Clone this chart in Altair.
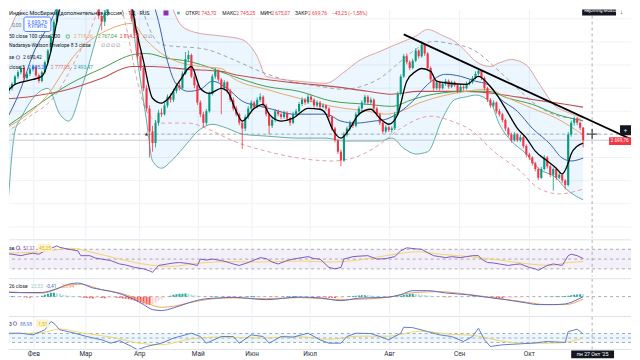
import altair as alt
import pandas as pd

FONT = "Roboto"
UP = "#089981"
DOWN = "#f23645"
W = 624
H_MAIN, H_RSI, H_MACD, H_OSC = 229, 37, 36, 42
OSC_PLOT = 33  # height of the oscillator plot band inside the last panel

# ---------------- candles (bar index 2 .. 194) ----------------
first_bar = 2
opens = [2870,2880,2895,2920,2935,2950,2915,2930,2945,2955,
         2925,2905,2935,2970,3010,3060,3110,3160,3200,3240,
         3270,3300,3320,3340,3310,3280,3250,3220,3250,3200,
         3170,3130,3110,3140,3180,3210,3230,3250,3240,3220,
         3190,3160,3120,3070,2990,2950,2880,2810,2730,2690,
         2760,2795,2790,2820,2850,2840,2870,2890,2880,2930,
         2980,2995,2920,2890,2830,2790,2760,2800,2860,2920,
         2940,2910,2880,2900,2870,2840,2810,2790,2760,2740,
         2780,2810,2830,2815,2840,2850,2820,2790,2750,2770,
         2800,2790,2780,2795,2775,2760,2790,2800,2825,2840,
         2830,2850,2840,2820,2830,2815,2820,2810,2780,2740,
         2700,2660,2630,2720,2740,2760,2750,2790,2810,2830,
         2850,2830,2840,2810,2790,2760,2730,2745,2735,2740,
         2790,2860,2920,2990,2970,2950,2975,3010,2990,3030,
         3000,2950,2910,2880,2900,2880,2895,2905,2885,2900,
         2890,2870,2885,2880,2895,2900,2915,2930,2940,2915,
         2880,2840,2820,2830,2800,2790,2770,2740,2720,2700,
         2720,2700,2710,2680,2650,2640,2620,2600,2570,2600,
         2640,2610,2580,2600,2570,2580,2560,2545,2720,2760,
         2775,2760,2743.70]
highs = [2890,2900,2925,2942,2958,2955,2936,2950,2962,2958,
         2930,2940,2975,3015,3068,3118,3168,3210,3250,3280,
         3310,3330,3350,3345,3318,3290,3258,3262,3255,3210,
         3175,3140,3150,3190,3220,3240,3262,3258,3248,3225,
         3195,3168,3128,3080,3005,2960,2890,2820,2750,2770,
         2805,2810,2830,2858,2862,2878,2898,2900,2938,3005,
         3010,3000,2930,2895,2838,2798,2808,2868,2928,2950,
         2945,2915,2908,2905,2878,2848,2818,2795,2768,2788,
         2818,2838,2836,2848,2862,2855,2826,2795,2778,2808,
         2806,2796,2802,2800,2780,2798,2808,2832,2848,2846,
         2860,2856,2845,2838,2835,2828,2824,2814,2785,2746,
         2705,2668,2728,2748,2768,2765,2798,2818,2838,2858,
         2856,2848,2845,2815,2795,2766,2752,2750,2748,2798,
         2868,2928,2998,3000,2976,2982,3018,3015,3042,3035,
         3005,2955,2915,2908,2905,2902,2912,2910,2906,2905,
         2895,2892,2890,2902,2908,2922,2938,2948,2944,2920,
         2885,2846,2838,2834,2808,2795,2775,2745,2726,2728,
         2724,2718,2714,2685,2656,2645,2625,2605,2608,2648,
         2645,2615,2606,2604,2588,2584,2565,2728,2768,2782,
         2780,2765,2745.25]
lows = [2860,2872,2890,2912,2928,2905,2908,2922,2938,2918,
        2898,2900,2930,2962,3005,3052,3100,3150,3190,3230,
        3260,3290,3305,3300,3270,3240,3210,3215,3190,3160,
        3120,3080,3095,3130,3170,3200,3220,3230,3210,3180,
        3150,3110,3060,2980,2940,2870,2800,2640,2660,2675,
        2750,2780,2785,2812,2830,2832,2862,2872,2875,2925,
        2970,2915,2880,2822,2780,2745,2752,2795,2855,2912,
        2902,2790,2872,2862,2832,2802,2782,2752,2670,2732,
        2772,2802,2808,2810,2832,2812,2782,2720,2742,2762,
        2782,2772,2774,2768,2750,2755,2784,2795,2818,2822,
        2825,2832,2812,2814,2808,2810,2802,2772,2732,2692,
        2652,2610,2625,2712,2732,2742,2745,2782,2802,2822,
        2822,2824,2802,2782,2752,2722,2724,2728,2726,2735,
        2785,2855,2915,2962,2942,2945,2970,2982,2985,2992,
        2942,2902,2872,2874,2872,2875,2888,2878,2880,2884,
        2862,2865,2872,2876,2890,2895,2910,2924,2908,2872,
        2832,2812,2814,2792,2782,2762,2732,2712,2692,2695,
        2694,2694,2672,2642,2632,2612,2592,2562,2565,2595,
        2602,2572,2525,2562,2565,2552,2530,2540,2712,2750,
        2752,2735,2675.07]
closes = [2880,2895,2920,2935,2950,2915,2930,2945,2955,2925,
          2905,2935,2970,3010,3060,3110,3160,3200,3240,3270,
          3300,3320,3340,3310,3280,3250,3220,3250,3200,3170,
          3130,3110,3140,3180,3210,3230,3250,3240,3220,3190,
          3160,3120,3070,2990,2950,2880,2810,2730,2690,2760,
          2795,2790,2820,2850,2840,2870,2890,2880,2930,2980,
          2995,2920,2890,2830,2790,2760,2800,2860,2920,2940,
          2910,2880,2900,2870,2840,2810,2790,2760,2740,2780,
          2810,2830,2815,2840,2850,2820,2790,2750,2770,2800,
          2790,2780,2795,2775,2760,2790,2800,2825,2840,2830,
          2850,2840,2820,2830,2815,2820,2810,2780,2740,2700,
          2660,2630,2720,2740,2760,2750,2790,2810,2830,2850,
          2830,2840,2810,2790,2760,2730,2745,2735,2740,2790,
          2860,2920,2990,2970,2950,2975,3010,2990,3030,3000,
          2950,2910,2880,2900,2880,2895,2905,2885,2900,2890,
          2870,2885,2880,2895,2900,2915,2930,2940,2915,2880,
          2840,2820,2830,2800,2790,2770,2740,2720,2700,2720,
          2700,2710,2680,2650,2640,2620,2600,2570,2600,2640,
          2610,2580,2600,2570,2580,2560,2545,2720,2760,2775,
          2760,2743,2699.76]

# ---------------- overlay lines (bar index, price) ----------------
black_x = [-1,4,10,13,16,18,21,26,33,38,41,44,47,50,53,55,59,63,66,69,73,75,78,80,84,87,89,93,97,102,
           106,108,110,113,116,119,123,126,129,132,135,138,140,143,145,149,155,159,162,165,168,172,175,178,182,185,187,189,190,192,194]
black_y = [2835,2893,2910,2921,3007,3111,3249,3387,3352,3387,3318,3111,2973,2845,2828,2841,2904,2955,2879,2862,
           2879,2869,2800,2766,2810,2824,2790,2766,2776,2810,2807,2790,2741,2707,2741,2790,2807,2776,2755,2790,
           2904,2938,2948,2938,2904,2897,2893,2921,2897,2859,2810,2741,2707,2662,2628,2603,2583,2621,2652,2679,2690]
blue_x = [-1,6,10,16,23,33,43,52,55,58,62,66,70,75,80,86,90,97,103,108,113,118,124,128,133,137,142,148,153,158,162,166,172,177,183,187,190,194]
blue_y = [2731,2879,2997,3111,3283,3352,3318,3111,2973,2893,2869,2876,2904,2879,2835,2817,2807,2790,2790,2790,
          2766,2759,2766,2772,2800,2835,2893,2928,2921,2904,2893,2845,2800,2741,2686,2638,2628,2638]
ma50_x = [-1,14,25,36,43,48,53,58,66,73,77,88,99,110,122,128,133,139,144,155,162,169,177,185,194]
ma50_y = [2731,2845,3007,3086,3104,3045,3000,2973,2955,2948,2914,2876,2845,2817,2800,2790,2800,2828,2845,2869,2876,2845,2810,2776,2718.36]
ma100_x = [-1,10,22,33,44,48,55,62,66,77,88,99,110,122,130,137,144,155,162,169,177,185,194]
ma100_y = [2731,2810,2893,2948,2997,3000,2983,2973,2962,2921,2886,2869,2835,2824,2817,2841,2859,2869,2869,2845,2824,2790,2767.04]
ma200_x = [-1,10,22,33,43,50,62,73,77,88,99,110,122,130,139,155,166,177,188,194]
ma200_y = [2841,2852,2876,2914,2955,2955,2945,2938,2928,2910,2897,2886,2869,2859,2869,2869,2859,2841,2824,2814]
bb_x = [0,2,3,4,6,10,15,19,22,27,33,41,45,48,50,53,56,60,66,70,75,80,85,88,99,108,114,119,126,130,
        134,138,142,147,151,155,158,163,166,170,175,179,185,188,194]
bb_upper = [3060,3080,3100,3125,3150,3210,3280,3360,3400,3450,3480,3495,3500,3450,3400,3300,3180,3093,3069,3064,
            3058,3048,2990,2921,2904,2897,2935,2975,3007,3025,3042,3060,3083,3062,3042,3005,2973,2955,2968,2979,
            2960,2900,2815,2800,2777.05]
bb_lower = [2250,2524,2652,2731,2776,2845,2879,2790,2766,2904,3111,3249,2973,2766,2628,2603,2625,2670,2738,2755,
            2741,2721,2716,2714,2707,2707,2697,2697,2697,2707,2672,2652,2660,2776,2840,2850,2856,2830,2755,2697,
            2652,2603,2569,2534,2493.47]
nw_up_x = [43,48,53,68,77,86,96,106,114,121,126,133,137,144,149,157,166,173,179,186,194]
nw_up_y = [3318,3111,3031,3014,2979,2938,2904,2886,2876,2890,2914,2973,3007,3042,3035,3014,2938,2869,2817,2783,2772]
nw_lo_x = [-1,8,18,24,29,33,37,41,45,48,53,62,68,77,88,99,110,117,126,133,143,150,157,164,173,179,186,194]
nw_lo_y = [2714,2776,2862,2973,3076,3180,3230,3100,2900,2800,2759,2759,2741,2697,2662,2638,2628,2638,2686,2741,
           2783,2766,2731,2662,2593,2534,2514,2531]
trend_x = [134, 210]
trend_y = [3066, 2703]

# ---------------- RSI ----------------
rsi_x = [-1,3,6,8,10,12,14,16,18,19,22,25,26,29,31,33,36,39,41,44,47,49,50,52,55,57,59,62,65,66,
         68,70,73,75,77,79,82,84,86,88,90,92,95,97,100,102,104,106,109,111,113,114,117,119,122,125,128,131,133,135,
         138,140,142,144,146,148,150,153,155,157,159,160,162,164,166,169,171,173,176,178,179,182,184,187,189,190,192,194]
rsi_y = [63,60,57,60,62,60,67,72,77,74,70,67,57,57,52,50,47,40,38,33,30,26,23,37,40,42,43,41,37,50,
         48,50,47,44,40,37,43,48,53,51,44,40,47,50,53,55,51,50,33,30,33,50,55,56,57,50,51,55,67,73,
         71,70,63,57,55,53,55,53,55,57,57,50,43,42,40,37,39,40,33,30,27,37,40,37,57,60,57,51.11]
rsi_ma_x = [-1,13,23,29,39,49,56,66,76,86,99,109,119,129,139,146,156,166,176,183,189,194]
rsi_ma_y = [62,65,72,65,50,38,35,42,45,44,46,44,48,58,65,60,55,48,40,37,43,45]

# ---------------- MACD ----------------
macd_x = [-1,6,13,18,22,25,30,36,40,44,47,50,53,57,62,66,72,77,88,99,106,113,119,128,133,137,142,148,155,162,168,175,179,184,188,192,194]
macd_y = [45,40,42,80,125,137,87,53,20,-30,-80,-130,-140,-113,-63,-30,-13,-7,-30,-5,-13,-40,-15,-7,20,60,60,37,20,-7,-30,-63,-80,-80,-73,-30,-0.41]
sig_x = [-1,13,22,26,33,39,44,48,53,57,62,68,77,88,99,113,128,137,146,155,166,173,182,188,194]
sig_y = [55,35,115,125,70,37,-13,-63,-107,-97,-63,-30,-13,-20,-10,-30,-10,40,50,25,-20,-47,-80,-80,-23.94]
hist = [5,6,4,3,
        -3,-5,-8,-10,-8,-6,-4,
        10,20,30,38,40,35,28,
        20,15,10,6,3,1,
        -5,-10,-14,-16,-18,-15,-12,-14,-16,-12,-10,-8,
        -10,-14,-18,-22,-26,
        -32,-40,-50,-60,-70,-80,-85,-75,-60,
        -40,-25,-12,-3,
        10,18,24,28,30,32,28,22,
        14,8,3,-2,
        -4,-2,3,5,4,2,-3,-6,-8,-9,-8,-10,-7,
        2,4,6,7,6,5,3,1,-2,-3,
        -4,-3,-1,2,3,5,6,7,6,5,
        4,3,1,-1,-3,-5,-6,-8,
        -10,-12,-14,-12,-10,-6,-2,
        3,6,9,12,14,15,14,12,9,6,
        3,-1,-3,-4,-3,-1,
        4,10,16,22,26,28,26,24,20,16,12,
        8,4,1,-2,-4,-5,-6,-5,-4,-3,
        -2,-1,0,1,2,3,2,1,
        -3,-6,-9,-12,-14,-16,-17,-16,-15,-14,-12,-10,
        -8,-7,-6,-5,-4,-3,-2,-1,0,1,1,2,3,
        4,5,6,8,14,19,22,24,23.53]

# ---------------- third oscillator ----------------
osc_x = [-1,6,10,14,16,17,19,24,28,33,36,39,43,45,48,53,57,63,66,68,73,77,79,83,87,89,93,97,102,106,
         109,113,115,118,123,126,129,133,134,137,142,146,150,154,157,159,161,163,167,173,177,182,188,189,192,194]
osc_y = [107,107,70,182,366,330,182,107,33,-40,-115,-60,-189,-262,-189,-115,-4,107,33,-115,33,33,-115,70,33,-115,33,20,107,-40,
         -115,-115,33,107,100,33,-40,107,240,230,144,70,33,-78,33,218,-40,-189,-152,-130,-115,-78,-100,144,196,88.98]
osc_ma_x = [-1,13,19,26,36,46,53,63,73,86,99,109,119,129,139,149,159,166,176,186,194]
osc_ma_y = [90,120,200,120,20,-120,-150,-20,20,0,30,-30,40,40,150,90,40,-60,-120,-110,-1.51]

# ---------------- axis / reference levels ----------------
month_idx = [10.3, 27.7, 45.7, 65.3, 83.3, 102.7, 129.3, 152.7, 176]
month_names = ["Фев", "Мар", "Апр", "Май", "Июн", "Июл", "Авг", "Сен", "Окт"]
price_grid = [2400, 2480, 2560, 2640, 2720, 2800, 2880, 2960, 3040, 3120]
cross_idx = 197
cross_price = 2721
last_price = 2699.76
rsi_levels = [70, 50, 30]
osc_levels = [100, 0, -100]

# ---------------- helpers ----------------
xscale = alt.Scale(domain=[2, 210], nice=False, zero=False)
y_main = alt.Scale(domain=[2362, 3152], nice=False, zero=False)
y_rsi = alt.Scale(domain=[14, 89.4], nice=False, zero=False)
y_macd = alt.Scale(domain=[-180, 180], nice=False, zero=False)
y_osc = alt.Scale(domain=[-455, 477], nice=False, zero=False)

ONE = pd.DataFrame({"k": [0]})


def XE():
    return alt.X("i:Q", scale=xscale, axis=None)


def df_xy(xs, ys):
    n = min(len(xs), len(ys))
    return pd.DataFrame({"i": list(xs[:n]), "v": list(ys[:n])})


def line(xs, ys, ys_scale, color, width=1.0, dash=None, interp="monotone", opacity=1.0):
    kw = dict(color=color, strokeWidth=width, interpolate=interp, clip=True, opacity=opacity)
    if dash:
        kw["strokeDash"] = dash
    return alt.Chart(df_xy(xs, ys)).mark_line(**kw).encode(
        x=XE(), y=alt.Y("v:Q", scale=ys_scale, axis=None))


def txt(s, x, y, color="#131722", size=5.3, align="left"):
    return alt.Chart(ONE).mark_text(text=s, align=align, baseline="middle", font=FONT, clip=True,
                                    fontSize=size, color=color).encode(x=alt.value(x), y=alt.value(y))


def box(x1, x2, y1, y2, fill, stroke=None, radius=0, opacity=1.0):
    kw = dict(fill=fill, opacity=opacity, clip=True)
    if stroke:
        kw.update(stroke=stroke, strokeWidth=0.8)
    if radius:
        kw["cornerRadius"] = radius
    return alt.Chart(ONE).mark_rect(**kw).encode(
        x=alt.value(x1), x2=alt.value(x2), y=alt.value(y1), y2=alt.value(y2))


def icon(x, y, color):
    return alt.Chart(ONE).mark_point(shape="circle", filled=False, color=color, size=12, strokeWidth=1.1).encode(
        x=alt.value(x), y=alt.value(y))


def vgrid(y2=None):
    enc = dict(x=XE())
    if y2 is not None:
        enc.update(y=alt.value(0), y2=alt.value(y2))
    return alt.Chart(pd.DataFrame({"i": month_idx})).mark_rule(color="#eef0f5", strokeWidth=1).encode(**enc)


def vcross():
    return alt.Chart(pd.DataFrame({"i": [cross_idx]})).mark_rule(
        color="#9598a1", strokeWidth=0.8, strokeDash=[3, 3]).encode(x=XE())


def hlevels(levels, ys_scale, color="#9598a1", width=0.8):
    return alt.Chart(pd.DataFrame({"v": levels})).mark_rule(
        color=color, strokeWidth=width, strokeDash=[3, 3]).encode(
        y=alt.Y("v:Q", scale=ys_scale, axis=None))


def separator(y):
    return alt.Chart(ONE).mark_rule(color="#dfe2ea", strokeWidth=1).encode(
        x=alt.value(0), x2=alt.value(W), y=alt.value(y))


# ---------------- main price panel ----------------
n = min(len(opens), len(highs), len(lows), len(closes))
bars = pd.DataFrame({
    "i": list(range(first_bar, first_bar + n)),
    "o": opens[:n], "h": highs[:n], "l": lows[:n], "c": closes[:n],
})
bars["col"] = [UP if c >= o else DOWN for o, c in zip(bars["o"], bars["c"])]

bb_df = pd.DataFrame({"i": bb_x, "u": bb_upper, "l": bb_lower})

wicks = alt.Chart(bars).mark_rule(strokeWidth=0.8, clip=True).encode(
    x=XE(), y=alt.Y("l:Q", scale=y_main, axis=None), y2="h:Q",
    color=alt.Color("col:N", scale=None))
bodies = alt.Chart(bars).mark_rule(strokeWidth=2.1, clip=True).encode(
    x=XE(), y=alt.Y("o:Q", scale=y_main, axis=None), y2="c:Q",
    color=alt.Color("col:N", scale=None))

bb_fill = alt.Chart(bb_df).mark_area(color="#2196f3", opacity=0.09, interpolate="monotone", clip=True).encode(
    x=XE(), y=alt.Y("u:Q", scale=y_main, axis=None), y2="l:Q")

price_line = alt.Chart(pd.DataFrame({"v": [last_price]})).mark_rule(color="#b8bcc6", strokeWidth=0.8).encode(
    y=alt.Y("v:Q", scale=y_main, axis=None))
hcross = alt.Chart(pd.DataFrame({"v": [cross_price]})).mark_rule(
    color="#9598a1", strokeWidth=0.8, strokeDash=[3, 3]).encode(y=alt.Y("v:Q", scale=y_main, axis=None))
hgrid = alt.Chart(pd.DataFrame({"v": price_grid})).mark_rule(color="#f0f2f6", strokeWidth=1).encode(
    y=alt.Y("v:Q", scale=y_main, axis=None))

cursor = alt.Chart(pd.DataFrame({"i": [cross_idx], "v": [cross_price]})).mark_point(
    shape="M-1,0L1,0M0,-1L0,1", filled=False, color="#131722", size=110, strokeWidth=1.3).encode(
    x=XE(), y=alt.Y("v:Q", scale=y_main, axis=None))
marker = alt.Chart(pd.DataFrame({"i": [48], "v": [cross_price]})).mark_point(
    shape="triangle-up", filled=True, color="#2a2e39", size=10, opacity=1).encode(
    x=XE(), y=alt.Y("v:Q", scale=y_main, axis=None))

main_layers = [
    vgrid(), hgrid, bb_fill,
    line(nw_up_x, nw_up_y, y_main, "#a3a6ad", 1, dash=[4, 3]),
    line(nw_lo_x, nw_lo_y, y_main, "#e6a1a6", 1, dash=[4, 3]),
    line(bb_x, bb_upper, y_main, "#e08a8a", 0.8),
    line(bb_x, bb_lower, y_main, "#3f9c8c", 0.8),
    line(ma200_x, ma200_y, y_main, "#c0504d", 1.1),
    line(ma100_x, ma100_y, y_main, "#43a047", 1.0),
    line(ma50_x, ma50_y, y_main, "#eba86a", 1.0),
    line(blue_x, blue_y, y_main, "#3d5fb0", 1.0),
    price_line, hcross,
    wicks, bodies,
    line(black_x, black_y, y_main, "#000000", 1.3),
    line(trend_x, trend_y, y_main, "#000000", 1.8, interp="linear"),
    vcross(), cursor, marker,
    # right side labels
    box(613, 624, 116, 126, "#131722"),
    txt("+", 618.5, 121, "#ffffff", 6, "center"),
    box(602, 624, 128, 136, DOWN),
    txt("2 699,76", 603.5, 132, "#ffffff", 4.8),
    box(575, 609, -3, 6, "#131722"),
    txt("Rejoining Moscow", 577, 1.5, "#ffffff", 4.5),
    txt("↓", 613, 2, "#131722", 6),
    # legend block
    txt("Индекс МосБиржи (дополнительная сессия) · 1Д · RUS", 0, 3.3, "#131722", 5.5),
    box(155, 160, 1, 6, "#9c27b0"),
    alt.Chart(ONE).mark_point(shape="circle", filled=True, color="#089981", size=10).encode(
        x=alt.value(170), y=alt.value(3.5)),
    txt("ОТКР", 177, 3.3, size=5), txt("2 743,70", 189, 3.3, DOWN, 5),
    txt("МАКС", 214, 3.3, size=5), txt("2 745,25", 228, 3.3, DOWN, 5),
    txt("МИН", 252, 3.3, size=5), txt("2 675,07", 263, 3.3, DOWN, 5),
    txt("ЗАКР", 287, 3.3, size=5), txt("2 699,76", 300, 3.3, DOWN, 5),
    txt("−43,25 (−1,58%)", 324, 3.3, DOWN, 5),
    txt("0,00", 3, 15, "#787b86", 5),
    box(15, 42, 7.5, 22, "#ffffff", stroke="#2962ff", radius=2),
    txt("2 699,76", 28.5, 12, "#2962ff", 5.3, "center"),
    txt("КУПИТЬ", 28.5, 18, "#2962ff", 4.8, "center"),
    txt("50 close 100 close 200", 0, 27, "#131722", 5),
    icon(59, 27, "#4caf50"),
    txt("2 718,36", 65, 27, "#eba86a", 5), txt("2 767,04", 89, 27, "#43a047", 5),
    txt("2 814,23", 111, 27, "#e53935", 5), txt("∅ ∅", 134, 27, "#787b86", 5),
    txt("Nadaraya-Watson Envelope 8 3 close", 0, 36, "#131722", 5),
    txt("∅ ∅ ∅ ∅", 92, 36, "#787b86", 5),
    txt("se", 0, 48, "#131722", 5),
    icon(9, 48, "#7e57c2"),
    txt("2 690,42", 14, 48, "#131722", 5),
    txt("close 3", 0, 58, "#131722", 5),
    txt("2 635,26", 19, 58, "#2962ff", 5), txt("2 777,05", 42, 58, "#e57373", 5),
    txt("2 493,47", 65, 58, "#26a69a", 5),
]
main = alt.layer(*main_layers).properties(width=W, height=H_MAIN)

# ---------------- RSI panel ----------------
rsi_band = alt.Chart(pd.DataFrame({"hi": [70], "lo": [30]})).mark_rect(color="#7e57c2", opacity=0.09).encode(
    x=alt.value(0), x2=alt.value(W), y=alt.Y("hi:Q", scale=y_rsi, axis=None), y2="lo:Q")
rsi = alt.layer(
    vgrid(), rsi_band, hlevels(rsi_levels, y_rsi),
    line(rsi_ma_x, rsi_ma_y, y_rsi, "#f3d35a", 1.0, opacity=0.9),
    line(rsi_x, rsi_y, y_rsi, "#7e57c2", 1.0, interp="linear"),
    vcross(), separator(0),
    txt("se", 0, 8, "#131722", 5),
    icon(9, 8, "#7e57c2"),
    txt("51,11", 14, 8, "#7e57c2", 5),
    box(29, 43, 4, 12, "#fff5cc"),
    txt("45,25", 30, 8, "#e0b020", 5),
).properties(width=W, height=H_RSI)

# ---------------- MACD panel ----------------
hn = len(hist)
hist_df = pd.DataFrame({"i": list(range(first_bar, first_bar + hn)), "h": hist, "z": [0] * hn})
hcol = []
for k, h in enumerate(hist):
    prev = hist[k - 1] if k > 0 else h
    if h >= 0:
        hcol.append("#26a69a" if h >= prev else "#b2dfdb")
    else:
        hcol.append("#ff5252" if h < prev else "#ffcdd2")
hist_df["col"] = hcol
hist_bars = alt.Chart(hist_df).mark_rule(strokeWidth=2, clip=True).encode(
    x=XE(), y=alt.Y("h:Q", scale=y_macd, axis=None), y2="z:Q", color=alt.Color("col:N", scale=None))
macd = alt.layer(
    vgrid(), hlevels([0], y_macd), hist_bars,
    line(sig_x, sig_y, y_macd, "#f4a261", 1.0),
    line(macd_x, macd_y, y_macd, "#5c6bc0", 1.0),
    vcross(), separator(0),
    txt("26 close", 0, 7, "#131722", 5),
    txt("23,53", 22, 7, "#9fc9c3", 5), txt("-0,41", 37, 7, "#5c6bc0", 5),
    txt("-23,94", 52, 7, "#f4a261", 5),
).properties(width=W, height=H_MACD)

# ---------------- third oscillator panel (with time labels strip) ----------------
osc_band = alt.Chart(pd.DataFrame({"hi": [100], "lo": [-100]})).mark_rect(color="#2196f3", opacity=0.09).encode(
    x=alt.value(0), x2=alt.value(W), y=alt.Y("hi:Q", scale=y_osc, axis=None), y2="lo:Q")
month_labels = alt.Chart(pd.DataFrame({"i": month_idx, "name": month_names})).mark_text(
    font=FONT, fontSize=6.5, color="#2a2e39", baseline="middle", align="center").encode(
    x=XE(), y=alt.value(OSC_PLOT + 5), text="name:N")
osc_cross = alt.Chart(pd.DataFrame({"i": [cross_idx]})).mark_rule(
    color="#9598a1", strokeWidth=0.8, strokeDash=[3, 3]).encode(x=XE(), y=alt.value(0), y2=alt.value(OSC_PLOT + 2))
osc = alt.layer(
    vgrid(OSC_PLOT), osc_band, hlevels(osc_levels, y_osc),
    line(osc_ma_x, osc_ma_y, y_osc, "#f3d35a", 1.0, opacity=0.9),
    line(osc_x, osc_y, y_osc, "#5b7fce", 1.0, interp="linear"),
    osc_cross, separator(0), separator(OSC_PLOT),
    month_labels,
    txt("3", 0, 7, "#131722", 5),
    icon(6, 7, "#7e57c2"),
    txt("88,98", 11, 7, "#5b7fce", 5),
    box(27, 40, 3, 11, "#fff5cc"),
    txt("-1,51", 28, 7, "#e0b020", 5),
    box(564, 607, OSC_PLOT + 1, H_OSC, "#131722"),
    txt("пн 27 Окт '25", 585.5, OSC_PLOT + 5, "#ffffff", 5.3, "center"),
).properties(width=W, height=H_OSC)

chart = alt.vconcat(main, rsi, macd, osc, spacing=0).properties(padding=0).configure_view(strokeWidth=0)

chart.save("out.html", embed_options={"renderer": "svg", "actions": False})
